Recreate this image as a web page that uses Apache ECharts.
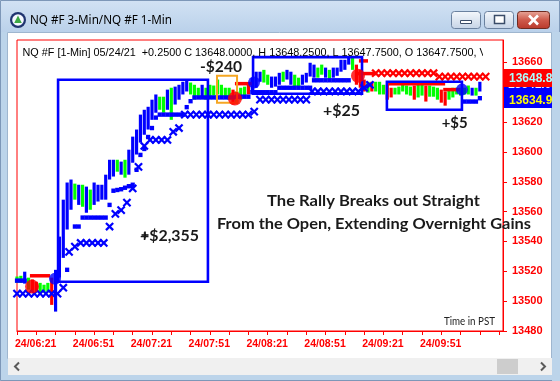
<!DOCTYPE html>
<html><head><meta charset="utf-8">
<script src="https://cdn.jsdelivr.net/npm/echarts@6/dist/echarts.min.js"></script>
<style>html,body{margin:0;padding:0;background:#bcd4ea;overflow:hidden}#c{width:560px;height:381px}</style>
</head><body><div id="c"></div>
<script>
// ---------------- DATA ----------------
// minutes after 24/06:21
const xTickMinutes = [0,10,20,30,40,50,60,70,80,90,100,110,120,130,140,150,160,170,180,190,200,210,220,230,240,250];
const xLabelMinutes = [0,30,60,90,120,150,180,210];
const xLabels = ['24/06:21','24/06:51','24/07:21','24/07:51','24/08:21','24/08:51','24/09:21','24/09:51'];
const yTicks = [13480,13500,13520,13540,13560,13580,13600,13620,13640,13660];

// price bars (2-minute sampling of the 1-min bars), starting at minute 0
const barStart = 0, barStep = 2;
const barHigh = [13516.5,13517,13519.75,13515.75,13514.5,13513,13512.25,13511,13512.25,13515.75,13521,
 13543.25,13568,13579.5,13581.5,13578.75,13578,13578,13576.75,13574.75,13579.5,13578,13578,13584.75,
 13594.75,13594.75,13594.75,13593.5,13594.75,13601.5,13610.25,13615,13625,13628.25,13630.25,13635,13638.5,
 13637,13637,13641.75,13643,13643.75,13645,13647,13648.5,13646.5,13645,13643,13645,13643,
 13645,13644.5,13648.5,13645,13643,13643,13641.75,13640.5,13643,13643.75,13645,13649.75,13653.75,
 13653.75,13655,13651.75,13650.5,13650.5,13653,13653.75,13655,13653.75,13651.75,13649.75,13651.75,13653,
 13659.75,13658.5,13656.5,13658.5,13656.5,13655,13656.5,13656.5,13661.75,13661.75,13663.75,13663.25,13658.5,
 13655,13648.5,13647,13647,13647,13647,13645,13645,13643,13643,13643.75,13645,13644.5,
 13643.75,13644.5,13645,13645,13644.5,13644.5,13643.75,13643,13641.75,13640.5,13641.75,13643,13643,
 13643,13643,13644.5,13643,13643,13647];
const barLow = [13512.25,13512.25,13511.75,13507.75,13506.25,13506.25,13505.75,13505.75,13506.25,13497.5,13493,
 13515.75,13529,13548,13561.25,13568,13564.5,13563.25,13559.25,13561.25,13564.5,13566.75,13568,13568,
 13581.5,13583.5,13586.75,13584.75,13582.75,13584.75,13592.75,13598.25,13606.25,13611.5,13615,13621.5,13626.25,
 13628.25,13626.25,13628.25,13621.5,13631.75,13635,13638.5,13640.5,13638.5,13635,13637,13636.5,13635,
 13636.5,13637.75,13638.5,13636.5,13637,13635,13631.75,13632.25,13635,13636.5,13638.5,13640.5,13643,
 13647,13646.5,13645,13643,13643.75,13645,13647,13648.5,13645,13643,13643,13645,13646.5,
 13650.5,13649.75,13649.75,13651.75,13649.75,13648.5,13649.75,13651,13653.75,13655,13658.5,13655,13645,
 13643,13640.5,13639.75,13640.5,13640.5,13638.5,13638.5,13635,13636.5,13638.5,13638.5,13640.5,13638.5,
 13637.75,13635,13636.5,13637.75,13633.75,13637,13637,13635,13633,13631,13635,13636.5,13638.5,
 13637.75,13638.5,13638.5,13637.75,13637.75,13640.5];
const barColor = ('ggbgrrgggrb'+'bbbbgbgbgbbbb'+'bbgbgbbbbbbbb'+'ggbgbbbbgggbg'+'ggggggrgggrbb'+
 'bggbbbgbbggbb'+'bbggbgbbbbbgr'+'rrgrgggrrgggg'+'grggrgggrrggg'+'gggbgb').split('');

// trailing stop dots (1-min study), minute / price
const stopTime  = [0,2,4,26,30,32,34,36,38,40,42,44,46,48,50,52,54,56,58,60,62,64,66,68,70,72,
 74,76,78,80,82,84,86,88,90,92,94,96,98,100,102,104,106,108,110,112,114,116,118,120,
 122,124,126,128,130,132,134,136,138,140,142,144,146,148,150,152,154,156,158,160,162,164,166,168,170,172,
 232,234,236,238,240];
const stopPrice = [13513.75,13513.75,13513.75,13521,13550,13550,13556,13556,13556,13556,13556,13556,13556,13564.5,
 13574,13574.5,13575,13576,13577,13578,13588,13598,13602,13610,13616,13623,
 13625,13625,13625,13625,13625,13625,13625,13630,13634,13636.5,13636.5,13636.5,13636.5,13636.5,13636.5,13636.5,13636.5,13636.5,13636.5,13636.5,
 13637,13637,13637,13637,
 13640,13640,13640,13640,13640,13640,13640,13643,13643,13643,13643,13643,13643,13643,13643,13643,
 13648,13648,13648,13648,13648,13648,13648,13648,13648,13648,
 13633.75,13633.75,13633.75,13633.75,13636];

// red stop segments: start minute, end minute, price
const redStopStart = [6.7,113,176.8,177.3,192.4,221];
const redStopEnd   = [17.1,122,186.5,182,222,229.7];
const redStopPrice = [13517,13645.75,13652.5,13661,13645.75,13641.75];

// 3-min X markers
const xmTime = [0,3,6,9,12,15,18,21,24,27,30,33,36,39,42,45,48,51,54,57,60,63,66,69,72,75,78,81,84,
 87,90,93,96,99,102,105,108,111,114,117,120,123,126,129,132,135,138,141,144,147,150,
 153,156,159,162,165,168,171,174,177,180,183,186,189,192,195,198,201,204,207,210,213,216,
 219,222,225,228,231,234,237,240,243];
const xmPrice = [13505,13505,13505,13505,13505,13505,13505,13505,13509,13533,13536.5,13539,13539,13539,13539,13539,
 13550,13558.5,13561,13566,13575.5,13590,13604,13608,13608,13608,13608,13613.5,13616,
 13625,13625,13625,13625,13625,13625,13625,13625,13625,13625,13625,13625,13627,
 13635,13635,13635,13635,13635,13635,13635,13635,13635,
 13640.5,13640.5,13640.5,13640.5,13640.5,13640.5,13640.5,13640.5,13640.5,13643,13645,
 13652.75,13652.75,13652.75,13652.75,13652.75,13652.75,13652.75,13652.75,13652.75,13652.75,13652.75,
 13650.5,13650.5,13650.5,13650.5,13650.5,13650.5,13650.5,13650.5,13650.5];
const xmColor = ('b'.repeat(62)+'r'.repeat(20)).split('');

// entry / exit markers
const dotTime  = [7.8,19.7,113,122.9,176.8,230.7];
const dotPrice = [13509.75,13515,13635.75,13646.5,13651,13641.75];
const dotColor = ['r','b','r','b','r','b'];

// trade boxes: start minute, end minute, low price, high price
const boxStart = [21.3,103.7,122.4,191.8];
const boxEnd   = [99,114.1,178.9,230.7];
const boxLow   = [13513,13633,13639,13628.3];
const boxHigh  = [13648.4,13651,13663.5,13647];
const boxColor = ['b','o','b','b'];

// ---------------- CHART ----------------
const COL = {b:'#0000ff', g:'#00ff00', r:'#ff0000', o:'#f5a623'};
const chart = echarts.init(document.getElementById('c'), null, {renderer:'canvas'});

const mctx = document.createElement('canvas').getContext('2d');
function fit(text, font, target){ mctx.font = font; return target / mctx.measureText(text).width; }
function txt(text, x, y, font, fill, target, align, z){
  return {type:'text', x:x, y:y, scaleX: target ? fit(text, font, target) : 1, z: z||50,
    style:{text:text, font:font, fill:fill, textAlign:align||'left', textVerticalAlign:'middle'}};
}
const headerFont = '11px "Liberation Sans"';
const headerFit = fit('NQ #F [1-Min] 05/24/21  +0.2500 C 13648.0000, H 13648.2500, L 13647.7500, O 13647.7500,', headerFont, 454);
const grad = (a,b,c)=>({type:'linear',x:0,y:0,x2:0,y2:1,colorStops:c?[{offset:0,color:a},{offset:0.5,color:b},{offset:1,color:c}]:[{offset:0,color:a},{offset:1,color:b}]});

const graphics = [
  {type:'rect', z:-20, shape:{x:0,y:0,width:560,height:381}, style:{fill:'#bcd4ea'}},
  {type:'rect', z:-19, shape:{x:0,y:0,width:560,height:32}, style:{fill:grad('#d2e2f4','#bad1ea')}},
  {type:'rect', z:-18, shape:{x:7.5,y:32.5,width:544,height:326}, style:{fill:'#ffffff', stroke:'#9fb6cf', lineWidth:1}},
  {type:'rect', z:-17, shape:{x:8,y:358,width:544,height:17}, style:{fill:'#f0f0f0'}},
  {type:'rect', z:-16, shape:{x:497,y:359,width:21,height:15}, style:{fill:'#cdcdcd'}},
  {type:'polyline', z:-16, shape:{points:[[19,362.5],[15,366.5],[19,370.5]]}, style:{stroke:'#5a5a5a', lineWidth:2, fill:null}},
  {type:'polyline', z:-16, shape:{points:[[541,362.5],[545,366.5],[541,370.5]]}, style:{stroke:'#5a5a5a', lineWidth:2, fill:null}},
  {type:'rect', z:-15, shape:{x:0.5,y:0.5,width:559,height:380}, style:{fill:null, stroke:'#7d97b8', lineWidth:1}},
  // icon
  {type:'circle', z:-10, shape:{cx:18,cy:20,r:8}, style:{fill:'#1f3470'}},
  {type:'circle', z:-9, shape:{cx:18,cy:20,r:5.8}, style:{fill:'#f4f8ff'}},
  {type:'polygon', z:-8, shape:{points:[[18,15.5],[21.8,23],[14.2,23]]}, style:{fill:'#3da845'}},
  txt('NQ #F 3-Min/NQ #F 1-Min', 30, 21, '12px "Noto Sans"', '#000000', 142, 'left', -5),
  // buttons
  {type:'rect', z:-10, shape:{x:451.5,y:11.5,width:29,height:17,r:3}, style:{fill:grad('#f5f8fc','#dde6f1','#c5d3e6'), stroke:'#6a819f', lineWidth:1}},
  {type:'rect', z:-9, shape:{x:460.5,y:20.5,width:11,height:3}, style:{fill:'#ffffff', stroke:'#3a4c68', lineWidth:1}},
  {type:'rect', z:-10, shape:{x:484.5,y:11.5,width:29,height:17,r:3}, style:{fill:grad('#f5f8fc','#dde6f1','#c5d3e6'), stroke:'#6a819f', lineWidth:1}},
  {type:'rect', z:-9, shape:{x:494.5,y:15.5,width:10,height:8}, style:{fill:'#ffffff', stroke:'#3a4c68', lineWidth:1.5}},
  {type:'rect', z:-10, shape:{x:517.5,y:11.5,width:32,height:17,r:3}, style:{fill:grad('#e9a99c','#cf5a4b','#b8382a'), stroke:'#6e2a20', lineWidth:1}},
  {type:'line', z:-9, shape:{x1:529,y1:15.5,x2:538,y2:24.5}, style:{stroke:'#ffffff', lineWidth:2.6}},
  {type:'line', z:-9, shape:{x1:538,y1:15.5,x2:529,y2:24.5}, style:{stroke:'#ffffff', lineWidth:2.6}},
  // header
  {type:'text', x:22.5, y:52.5, scaleX:headerFit, z:40, style:{text:'NQ #F [1-Min] 05/24/21  +0.2500 C 13648.0000, H 13648.2500, L 13647.7500, O 13647.7500, V', font:headerFont, fill:'#000000', textVerticalAlign:'middle'}},
  {type:'rect', z:41, shape:{x:483,y:44,width:19,height:16}, style:{fill:'#ffffff'}},
  // annotations
  txt('-$240', 221, 67, 'bold 16px Lato', '#1a1a1a', 42, 'center'),
  txt('+$2,355', 169.5, 235.5, 'bold 16px Lato', '#1a1a1a', 59, 'center'),
  txt('+$25', 341.5, 111, 'bold 16px Lato', '#1a1a1a', 37, 'center'),
  txt('+$5', 454.7, 123, 'bold 16px Lato', '#1a1a1a', 26, 'center'),
  txt('The Rally Breaks out Straight', 373.5, 201, 'bold 16px Lato', '#1a1a1a', 213, 'center'),
  txt('From the Open, Extending Overnight Gains', 374, 223.5, 'bold 16px Lato', '#1a1a1a', 314, 'center'),
  txt('Time in PST', 444, 321.5, '11px Lato', '#222222', 51, 'left'),
  // mouse cursor
  {type:'line', z:45, shape:{x1:141.5,y1:235,x2:148.5,y2:235}, style:{stroke:'#000', lineWidth:1.5}},
  {type:'line', z:45, shape:{x1:145,y1:231.5,x2:145,y2:238.5}, style:{stroke:'#000', lineWidth:1.5}},
  // price badges
  {type:'rect', z:60, shape:{x:504,y:87,width:48,height:21}, style:{fill:'#0000ff'}},
  {type:'text', x:508, y:85, z:61, style:{text:'13641.0', font:'bold 12px "Liberation Sans"', fill:'#f0f0ff', textVerticalAlign:'middle'}},
  {type:'rect', z:62, shape:{x:504,y:69,width:48,height:18}, style:{fill:'#ff0000'}},
  {type:'text', x:509, y:78.5, z:63, style:{text:'13648.8', font:'bold 12px "Liberation Sans"', fill:'#aaffff', textVerticalAlign:'middle'}},
  {type:'text', x:509, y:100.5, z:63, style:{text:'13634.9', font:'bold 12px "Liberation Sans"', fill:'#ffff00', textVerticalAlign:'middle'}},
  {type:'rect', z:70, shape:{x:552,y:32,width:8,height:349}, style:{fill:'#bcd4ea'}}
];

const barData = barHigh.map((h,i)=>[barStart+i*barStep, h, barLow[i]]);
const stopData = stopTime.map((t,i)=>[t, stopPrice[i]]);
const redData = redStopStart.map((s,i)=>[s, redStopEnd[i], redStopPrice[i]]);
const xmData = xmTime.map((t,i)=>[t, xmPrice[i]]);
const dotData = dotTime.map((t,i)=>({value:[t, dotPrice[i]], itemStyle:{color:COL[dotColor[i]]}, symbolSize: dotColor[i]==='r'?14:12}));
const boxData = boxStart.map((s,i)=>[s, boxEnd[i], boxLow[i], boxHigh[i]]);

const option = {
  animation:false,
  backgroundColor:'#bcd4ea',
  grid:{left:17, right:57, top:40, bottom:50, show:true, borderColor:'#ff0000', borderWidth:1, backgroundColor:'transparent', containLabel:false, outerBoundsMode:'none'},
  xAxis:{type:'value', min:0, max:252,
    axisLine:{show:true, onZero:false, lineStyle:{color:'#ff0000', width:1}},
    axisTick:{show:true, length:4, customValues:xTickMinutes, lineStyle:{color:'#ff0000'}},
    axisLabel:{customValues:xLabelMinutes, formatter:v=>{const k=xLabelMinutes.indexOf(v); return k>=0?xLabels[k]:'';},
      color:'#ff0000', fontWeight:'bold', fontSize:10.5, fontFamily:'"Liberation Sans", Arial', align:'left', margin:8, padding:[0,0,0,-2]},
    splitLine:{show:false}},
  yAxis:{type:'value', position:'right', min:13480, max:13675,
    axisLine:{show:true, onZero:false, lineStyle:{color:'#ff0000', width:1}},
    axisTick:{show:true, length:4, customValues:yTicks, lineStyle:{color:'#ff0000'}},
    axisLabel:{customValues:yTicks, formatter:v=>String(v), color:'#ff0000', fontWeight:'bold', fontSize:11, fontFamily:'"Liberation Sans", Arial', margin:9},
    splitLine:{show:false}},
  series:[
    {type:'custom', name:'bars', z:2, data:barData, encode:{x:0, y:[1,2]},
     renderItem:(p, api)=>{ const a=api.coord([api.value(0), api.value(1)]), b=api.coord([api.value(0), api.value(2)]);
       return {type:'rect', shape:{x:a[0]-1.6, y:a[1], width:3.2, height:Math.max(1.5, b[1]-a[1])}, style:{fill:COL[barColor[p.dataIndex]]}}; }},
    {type:'custom', name:'stop', z:3, data:stopData, encode:{x:0, y:1},
     renderItem:(p, api)=>{ const a=api.coord([api.value(0), api.value(1)]);
       return {type:'rect', shape:{x:a[0]-2.1, y:a[1]-2.2, width:4.2, height:4.4}, style:{fill:'#0000ff'}}; }},
    {type:'custom', name:'redstop', z:3, data:redData, encode:{x:[0,1], y:2},
     renderItem:(p, api)=>{ const a=api.coord([api.value(0), api.value(2)]), b=api.coord([api.value(1), api.value(2)]);
       return {type:'line', shape:{x1:a[0], y1:a[1], x2:b[0], y2:b[1]}, style:{stroke:'#ff0000', lineWidth:3.5}}; }},
    {type:'custom', name:'xmarks', z:3, data:xmData, encode:{x:0, y:1},
     renderItem:(p, api)=>{ const c=api.coord([api.value(0), api.value(1)]), s=3.6, col=COL[xmColor[p.dataIndex]];
       return {type:'group', children:[
         {type:'line', shape:{x1:c[0]-s,y1:c[1]-s,x2:c[0]+s,y2:c[1]+s}, style:{stroke:col, lineWidth:2.2}},
         {type:'line', shape:{x1:c[0]-s,y1:c[1]+s,x2:c[0]+s,y2:c[1]-s}, style:{stroke:col, lineWidth:2.2}}]}; }},
    {type:'custom', name:'boxes', z:4, data:boxData, encode:{x:[0,1], y:[2,3]},
     renderItem:(p, api)=>{ const a=api.coord([api.value(0), api.value(3)]), b=api.coord([api.value(1), api.value(2)]);
       const c = boxColor[p.dataIndex];
       return {type:'rect', shape:{x:a[0], y:a[1], width:b[0]-a[0], height:b[1]-a[1]}, style:{fill:null, stroke:COL[c], lineWidth:c==='o'?2:2.6}}; }},
    {type:'scatter', name:'trades', z:5, symbol:'circle', data:dotData}
  ],
  graphic:{elements:graphics}
};
chart.setOption(option);
</script></body></html>
